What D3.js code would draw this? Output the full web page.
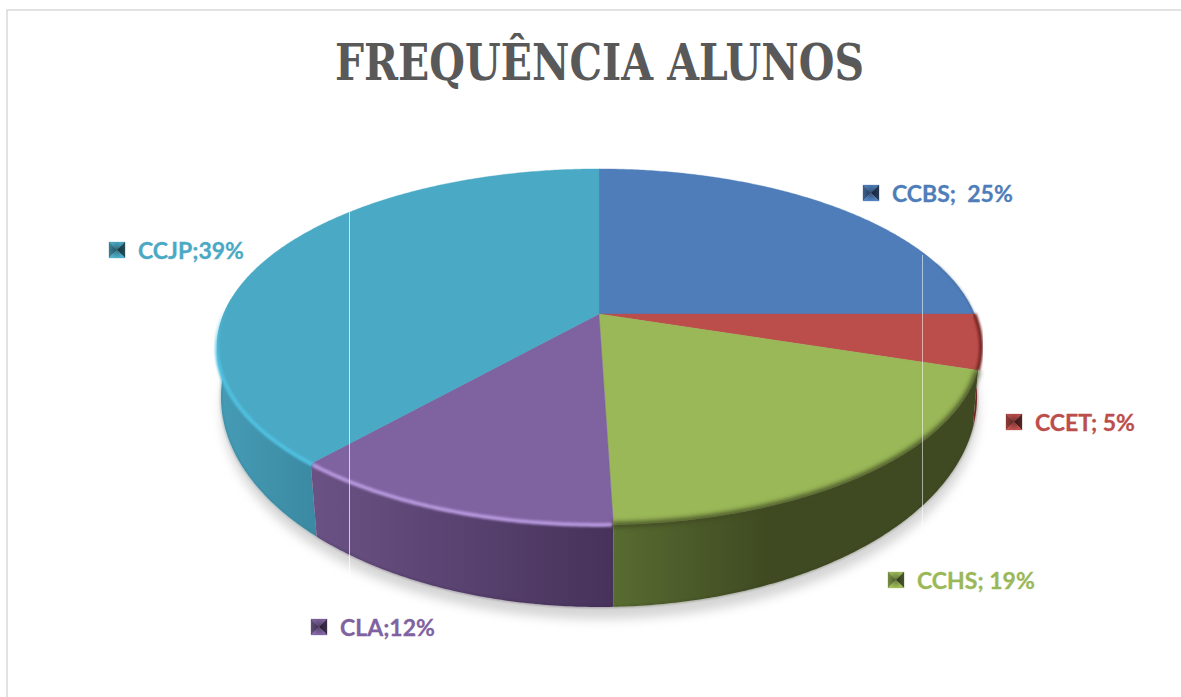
<!DOCTYPE html>
<html><head><meta charset="utf-8">
<script src="https://cdn.jsdelivr.net/npm/d3@7"></script>
<style>html,body{margin:0;padding:0;background:#fff;overflow:hidden}svg{display:block}</style>
</head><body><svg id="c" width="1181" height="697"></svg>
<script>
const categories = ["CCBS","CCET","CCHS","CLA","CCJP"];
const sliceValues = [25, 5, 19.5, 12, 38.5];
const labelTexts = ["CCBS;  25%","CCET; 5%","CCHS; 19%","CLA;12%","CCJP;39%"];
const colors = ["#4e7db9","#bb4e4b","#9ab858","#7f62a0","#4aa9c4"];
const sideStops = [["#3a5e8c","#3a5e8c"],["#7a2c2a","#6a2422"],["#586c31","#3f4a22"],["#6b5285","#46325a"],["#469cb5","#3b89a2"]];
const legendX = [863,1006,888,311,109];
const legendY = [185,414,572,619,242];
const titleText = "FREQUÊNCIA ALUNOS";

const svg = d3.select("#c");
const defs = svg.append("defs");
const blur = (id,s)=>defs.append("filter").attr("id",id).attr("x","-20%").attr("y","-20%").attr("width","140%").attr("height","140%").append("feGaussianBlur").attr("stdDeviation",s);
blur("b1",1.3); blur("b3",2.6); blur("b7",5.5);

// frame
svg.append("rect").attr("x",7).attr("y",10).attr("width",1300).attr("height",800).attr("fill","#fff").attr("stroke","#d9d9d9").attr("stroke-width",1.5);

// perspective projection of the unit circle: top face and bottom rim
const project = (p)=>(a)=>{const u=Math.sin(a),v=Math.cos(a),w=1+p.k*v;return [p.cx+p.r*u/w,p.cy-p.b*v/w];};
const topP = project({cx:599,cy:314,r:375.4,b:171.9,k:0.185});
const botP = project({cx:599,cy:361.3,r:372.5,b:203.9,k:0.17});
const rad = d=>d*Math.PI/180;
const arcSamples=(a0,a1)=>{const n=Math.max(2,Math.ceil(Math.abs(a1-a0)/rad(0.5)));return d3.range(n+1).map(i=>a0+(a1-a0)*i/n);};
const line=d3.line();
const pie=d3.pie().sort(null).value(d=>d);
const arcs=pie(sliceValues);
const centerPt=[599,314];

// soft ground shadow
svg.append("path").attr("d",line(arcSamples(0,2*Math.PI).map(botP))+"Z").attr("transform","translate(1,12)").attr("fill","#d4d4d4").attr("filter","url(#b7)");

// sides
[4,3,1,2].forEach(i=>{
  const a=arcs[i];
  const s0=Math.max(a.startAngle,rad(85)),s1=Math.min(a.endAngle,rad(275));
  const t=arcSamples(s0,s1);
  const pts=t.map(topP).concat(t.slice().reverse().map(botP));
  const xs=pts.map(p=>p[0]);
  const stops=sideStops[i];
  const g=defs.append("linearGradient").attr("id","side"+i).attr("gradientUnits","userSpaceOnUse")
    .attr("x1",d3.min(xs)).attr("x2",d3.max(xs)).attr("y1",0).attr("y2",0);
  g.append("stop").attr("offset",0).attr("stop-color",stops[0]);
  g.append("stop").attr("offset",i===2?.42:1).attr("stop-color",stops[1]);
  svg.append("path").attr("d",line(pts)+"Z").attr("fill","url(#side"+i+")");
  svg.append("path").attr("d",line(t.map(botP))).attr("fill","none").attr("stroke",d3.color(stops[1]).darker(.5)).attr("stroke-width",1).attr("filter","url(#b1)").attr("opacity",.7);
});

// top face
arcs.forEach((a,i)=>{
  const pts=[centerPt].concat(arcSamples(a.startAngle,a.endAngle).map(topP));
  svg.append("path").attr("class","slice").attr("d",line(pts)+"Z").attr("fill",colors[i]).attr("stroke",colors[i]).attr("stroke-width",.4);
});

// bevel rim along the outer edge of each slice
const rim=(a0,a1,color,w,f,op)=>svg.append("path").attr("d",line(arcSamples(rad(a0),rad(a1)).map(topP))).attr("fill","none").attr("stroke",color).attr("stroke-width",w).attr("filter",f).attr("opacity",op);
rim(72,90,"#2c4a70",1,"url(#b1)",.7);
rim(90,108,"#7a2a28",4,"url(#b1)",1);
rim(108,178.4,"#3f4a22",5,"url(#b3)",1);
rim(178.4,221,"#b596dc",4,"url(#b1)",1);
const tealFade=defs.append("linearGradient").attr("id","tealFade").attr("gradientUnits","userSpaceOnUse").attr("x1",0).attr("x2",0).attr("y1",305).attr("y2",365);
tealFade.append("stop").attr("offset",0).attr("stop-color","#4fc0e0").attr("stop-opacity",0);
tealFade.append("stop").attr("offset",1).attr("stop-color","#4fc0e0").attr("stop-opacity",1);
rim(221,285,"url(#tealFade)",4,"url(#b1)",1);

// thin pale vertical streaks
svg.append("line").attr("x1",349.5).attr("x2",349.5).attr("y1",212).attr("y2",578).attr("stroke","#fff").attr("stroke-opacity",.7);
svg.append("line").attr("x1",922.5).attr("x2",922.5).attr("y1",255).attr("y2",530).attr("stroke","#fff").attr("stroke-opacity",.55);

// title
svg.append("text").attr("x",599.5).attr("y",80).attr("text-anchor","middle").attr("font-family","'DejaVu Serif',serif").attr("font-weight",700).attr("font-size",50).attr("fill","#595959").attr("textLength",529).attr("lengthAdjust","spacingAndGlyphs").text(titleText);

// labels with pyramid keys
const shade=defs.append("radialGradient").attr("id","keyShade");
shade.append("stop").attr("offset",0).attr("stop-color","#000").attr("stop-opacity",.35);
shade.append("stop").attr("offset",1).attr("stop-color","#000").attr("stop-opacity",0);
categories.forEach((c,i)=>{
  const x=legendX[i],y=legendY[i],s=16,base=d3.color(colors[i]);
  const g=svg.append("g").attr("class","key").attr("transform",`translate(${x},${y})`);
  const m=[s/2,s/2];
  const tris=[[[0,0],[s,0],m,base.darker(.1)],[[0,0],[0,s],m,base.darker(.8)],[[s,0],[s,s],m,base.darker(2.2)],[[0,s],[s,s],m,base.brighter(.1)]];
  tris.forEach(t=>g.append("path").attr("d",line(t.slice(0,3))+"Z").attr("fill",t[3]).attr("stroke",t[3]).attr("stroke-width",.3));
  g.append("rect").attr("width",s).attr("height",s).attr("fill","url(#keyShade)");
  svg.append("text").attr("x",x+29).attr("y",y+17).attr("font-family","Lato,sans-serif").attr("font-weight",700).attr("font-size",23).attr("fill",colors[i]).attr("stroke",colors[i]).attr("stroke-width",.3).style("white-space","pre").text(labelTexts[i]);
});
</script></body></html>
